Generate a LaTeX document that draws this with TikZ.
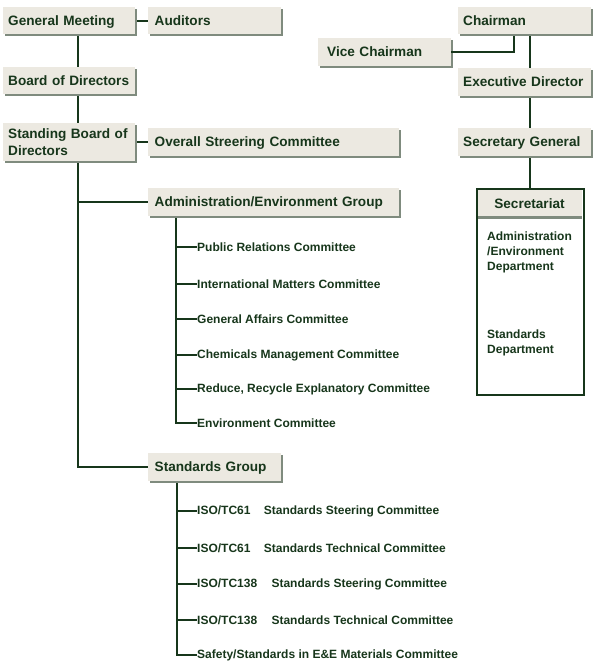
\documentclass[tikz,border=0pt]{standalone}
\usepackage{fontspec}
\setmainfont{Liberation Sans}
\usepackage{xcolor}
\usetikzlibrary{positioning,calc,shadows}

\definecolor{orgGreen}{HTML}{17361B}
\definecolor{boxFill}{HTML}{ECE9E1}
\definecolor{boxShadow}{HTML}{7F8B7E}

\tikzset{
    orgbox/.style={rectangle, fill=boxFill, anchor=north west, inner xsep=5pt, inner ysep=0pt,
        text width=#1, minimum height=27pt, text=orgGreen, font=\bfseries\fontsize{13.6}{16.5}\selectfont, align=left,
        text depth=1pt, general shadow={fill=boxShadow, shadow xshift=2pt, shadow yshift=-2pt}},
    orgbox/.default=123pt,
    orgitem/.style={anchor=west, inner sep=0pt, text=orgGreen, font=\bfseries\fontsize{12}{15}\selectfont},
    orgline/.style={draw=orgGreen, line width=2pt}
}

\begin{document}
\begin{tikzpicture}[x=1pt, y=-1pt]
    \useasboundingbox (0,0) rectangle (595,669);

    % left column
    \node [orgbox=122pt] (gm) at (3,7) {General Meeting};
    \node [orgbox=120pt, inner xsep=6.5pt] (aud) at (148,7) {Auditors};
    \node [orgbox=122pt] (bod) at (3,67) {Board of Directors};
    \node [orgbox=122pt, text depth=, minimum height=38pt] (sbd) at (3,123) {Standing Board of\\Directors};
    \node [orgbox=238pt, inner xsep=6.5pt, minimum height=28pt] (osc) at (148,128) {Overall Streering Committee};
    \node [orgbox=238pt, inner xsep=6.5pt, minimum height=28pt] (aeg) at (148,188) {Administration/Environment Group};
    \node [orgbox=120pt, inner xsep=6.5pt, minimum height=28pt] (stg) at (148,453) {Standards Group};

    \coordinate (trunk) at (78,0);
    \coordinate (admTrunk) at (176,0);
    \coordinate (stdTrunk) at (177,0);

    \node [orgitem] (pr) at (197,247) {Public Relations Committee};
    \node [orgitem] (im) at (197,284) {International Matters Committee};
    \node [orgitem] (ga) at (197,319) {General Affairs Committee};
    \node [orgitem] (cm) at (197,355) {Chemicals Management Committee};
    \node [orgitem] (rr) at (197,389) {Reduce, Recycle Explanatory Committee};
    \node [orgitem] (env) at (197,423) {Environment Committee};

    \node [orgitem] (iso1) at (197,511) {ISO/TC61\hspace{10pt} Standards Steering Committee};
    \node [orgitem] (iso2) at (197,548) {ISO/TC61\hspace{10pt} Standards Technical Committee};
    \node [orgitem] (iso3) at (197,584) {ISO/TC138\hspace{11pt} Standards Steering Committee};
    \node [orgitem] (iso4) at (197,620) {ISO/TC138\hspace{11pt} Standards Technical Committee};
    \node [orgitem] (safe) at (197,655) {Safety/Standards in E\&E Materials Committee};

    \draw [orgline] (gm.east) ++(2,0) -- (aud.west);
    \draw [orgline] (gm.south -| trunk) ++(0,2) -- (bod.north -| trunk);
    \draw [orgline] (bod.south -| trunk) ++(0,2) -- (sbd.north -| trunk);
    \draw [orgline] (sbd.east) ++(2,0) -- (osc.west);
    \draw [orgline] (sbd.south -| trunk) ++(0,2) |- (stg.west);
    \draw [orgline] (trunk |- aeg.west) -- (aeg.west);

    \draw [orgline] (aeg.south -| admTrunk) ++(0,2) -- (admTrunk |- env.west) -- (env.west);
    \foreach \c in {pr,im,ga,cm,rr}
        \draw [orgline] (admTrunk |- \c.west) -- (\c.west);
    \draw [orgline] (stg.south -| stdTrunk) ++(0,2) -- (stdTrunk |- safe.west) -- (safe.west);
    \foreach \c in {iso1,iso2,iso3,iso4}
        \draw [orgline] (stdTrunk |- \c.west) -- (\c.west);

    % right column
    \node [orgbox] (chair) at (458,7) {Chairman};
    \node [orgbox=115pt, inner xsep=9pt, minimum height=28pt] (vice) at (318,38) {Vice Chairman};
    \node [orgbox, minimum height=28pt] (exec) at (458,68) {Executive Director};
    \node [orgbox, minimum height=28pt] (secgen) at (458,128) {Secretary General};

    \fill [boxShadow] (477,216) rectangle (582,219);
    \fill [boxFill] (477,189) rectangle (582,216);
    \node [draw=orgGreen, line width=2pt, anchor=north west, minimum width=107pt, minimum height=206pt] (sectt) at (476,188) {};
    \node [text=orgGreen, font=\bfseries\fontsize{13.6}{16.5}\selectfont] (secHead) at (529.5,204) {Secretariat};
    \node [orgitem, anchor=north west, align=left] (admDept) at (487,232) {Administration\\/Environment\\Department};
    \node [orgitem, anchor=north west, align=left] (stdDept) at (487,330) {Standards\\Department};

    \coordinate (rTrunk) at (530,0);
    \draw [orgline] (chair.south -| rTrunk) ++(0,2) -- (exec.north -| rTrunk);
    \draw [orgline] (chair.south -| 514,0) ++(0,2) |- (vice.east);
    \draw [orgline] (exec.south -| rTrunk) ++(0,2) -- (secgen.north -| rTrunk);
    \draw [orgline] (secgen.south -| rTrunk) ++(0,2) -- (sectt.north -| rTrunk);
\end{tikzpicture}
\end{document}
